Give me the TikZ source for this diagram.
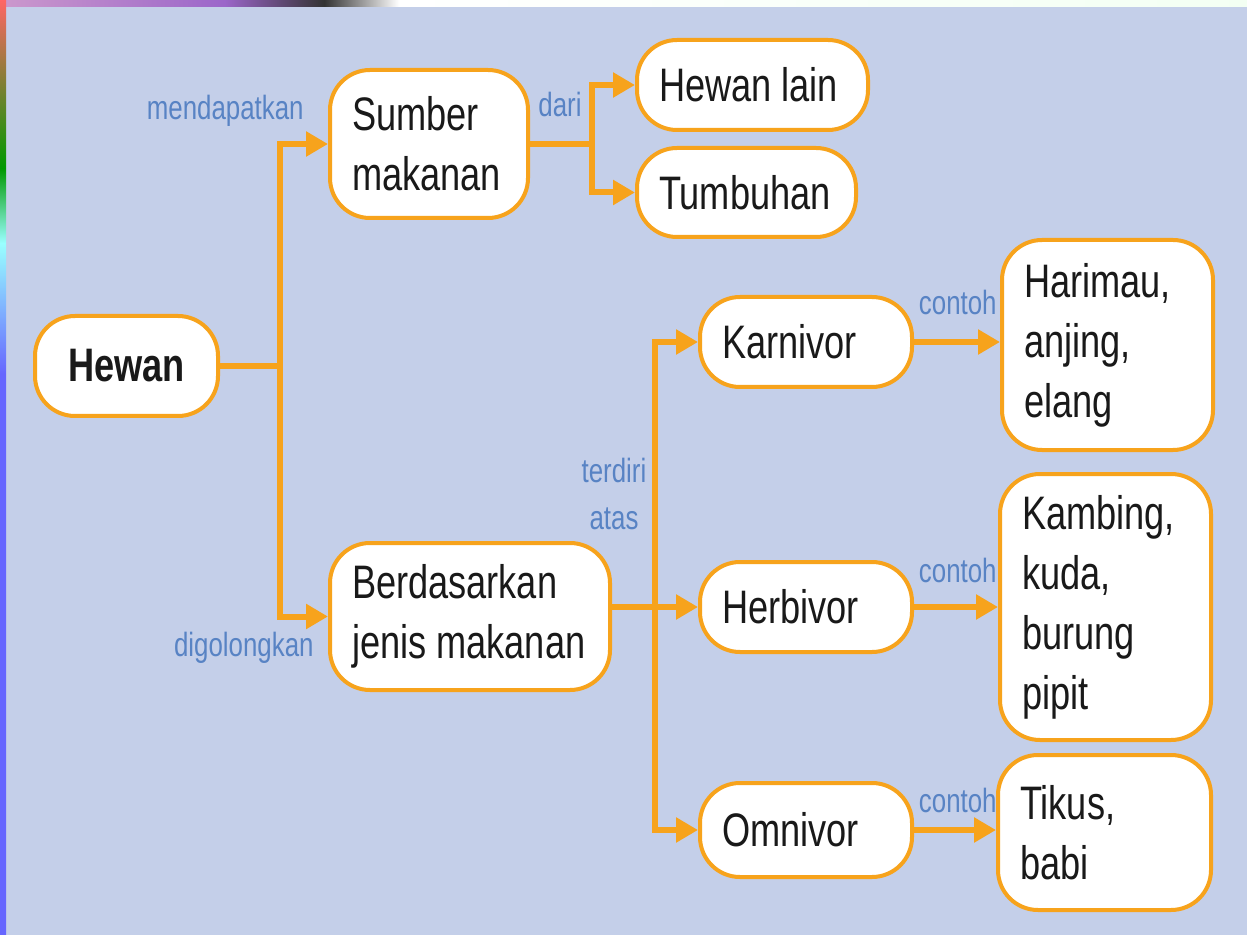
\documentclass[tikz,border=0pt]{standalone}
\usepackage{fontspec}
\setmainfont{Liberation Sans}[FakeStretch=0.77]
\usepackage{xcolor}
\usepackage{tikz}
\usetikzlibrary{calc, arrows.meta, positioning}

\definecolor{bgblue}{RGB}{196,207,233}
\definecolor{lineorange}{RGB}{247,163,28}
\definecolor{lblblue}{RGB}{88,131,196}
\newcommand{\boxfont}{\fontsize{23.5}{30}\selectfont}
\newcommand{\lblfont}{\fontsize{16.8}{23.5}\selectfont}
\newcommand{\wsp}{\kern5pt}

\pgfdeclarehorizontalshading{topstrip}{100bp}{color(0bp)=(purple!70!black); color(6bp)=(red!40); color(10bp)=(white); color(20bp)=(black!15); color(22bp)=(black!80); color(25bp)=(violet!40); color(34bp)=(blue!30!violet!60); color(38bp)=(black!80); color(41bp)=(white); color(100bp)=(green!8)}
\pgfdeclareverticalshading{leftstrip}{100bp}{color(0bp)=(yellow!60!green); color(15bp)=(green!50!blue); color(25bp)=(blue!60!white); color(55bp)=(blue!60!white); color(62bp)=(cyan!40); color(66bp)=(green!60!black); color(75bp)=(red!60); color(88bp)=(white); color(100bp)=(purple!70!black)}

\begin{document}
\begin{tikzpicture}[x=0.5pt, y=-0.5pt, >=Triangle, font=\boxfont]
		\tikzstyle{box} = [draw=lineorange, fill=white, line width=2pt, rounded corners=20pt, align=left, inner xsep=11pt, inner ysep=0pt, text=black!90, font=\boxfont]
		\tikzstyle{lbl} = [inner sep=0pt, text=lblblue, font=\lblfont]
		\tikzstyle{line} = [draw=lineorange, line width=3pt]
		\tikzstyle{arrow} = [line, -{Triangle[length=11pt, width=12pt]}]
		
		% background
		\useasboundingbox (0, 0) rectangle (1247, 935);
		\fill[bgblue] (0, 0) rectangle (1247, 935);
		\shade[shading=topstrip] (0, 0) rectangle (1247, 7);
		\shade[shading=leftstrip] (0, 0) rectangle (6, 935);
		
		\node[box, text width=69.5pt, minimum height=50pt, align=center, font=\boxfont\bfseries]	at (126.5, 366)	(q0)	{Hewan};
		
		\node[box, text width=77pt, minimum height=74pt]	at (429, 144)		(q1)	{Sumber\\makanan};
		\node[box, text width=118pt, minimum height=73.5pt]	at (470, 616.5)	(q2)	{Berdasarkan\\jenis\wsp makanan};
		
		\node[box, text width=93.5pt, minimum height=45pt]	at (752.5, 85)		(q3)	{Hewan\wsp lain};
		\node[box, text width=87.5pt, minimum height=44.5pt]	at (746.5, 192.5)	(q4)	{Tumbuhan};
		
		\node[box, text width=84pt, minimum height=45pt]	at (806, 342)		(q5)	{Karnivor};
		\node[box, text width=84pt, minimum height=45pt]	at (806, 607)		(q6)	{Herbivor};
		\node[box, text width=84pt, minimum height=47pt]	at (806, 830)		(q7)	{Omnivor};
		
		\node[box, text width=83.5pt, minimum height=105pt]	at (1107.5, 345)	(q8)	{Harimau,\\anjing,\\elang};
		\node[box, text width=83.5pt, minimum height=133pt]	at (1105.5, 607)	(q9)	{Kambing,\\kuda,\\burung\\pipit};
		\node[box, text width=84.5pt, minimum height=77.5pt]	at (1104.5, 832.5)	(q10)	{Tikus,\\babi};
		
		\node[lbl, anchor=east]		at (304, 111)	(l0)	{mendapatkan};
		\node[lbl, anchor=east]		at (314, 648)	(l1)	{digolongkan};
		\node[lbl]					at (560, 104)	(l2)	{dari};
		\node[lbl, align=center]	at (614, 494)	(l3)	{terdiri\\atas};
		\node[lbl, anchor=east]		at (997, 302)	(l4)	{contoh};
		\node[lbl, anchor=east]		at (997, 570)	(l5)	{contoh};
		\node[lbl, anchor=east]		at (997, 800)	(l6)	{contoh};
		
		\coordinate (j0) at (280, 366);
		\coordinate (j1) at (592, 144);
		\coordinate (j2) at (655, 607);
		
		\draw [line]  (q0) -- (j0);
		\draw [arrow] (j0) |- (q1);
		\draw [arrow] (j0) |- (q2);
		
		\draw [line]  (q1) -- (j1);
		\draw [arrow] (j1) |- (q3);
		\draw [arrow] (j1) |- (q4);
		
		\draw [arrow] (q2.east |- j2) -- (q6);
		\draw [arrow] (j2) |- (q5);
		\draw [arrow] (j2) |- (q7);
		
		\draw [arrow] (q5) -- (q5 -| q8.west);
		\draw [arrow] (q6) -- (q9);
		\draw [arrow] (q7) -- (q7 -| q10.west);
		
	\end{tikzpicture}
\end{document}
